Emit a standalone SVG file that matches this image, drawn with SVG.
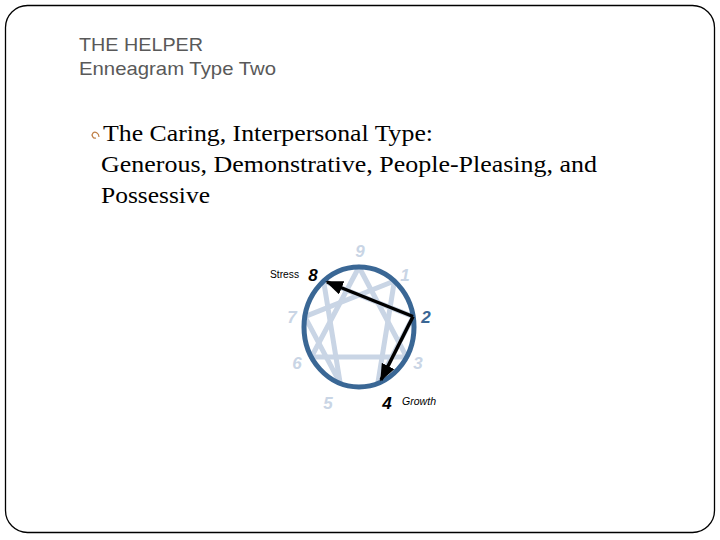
<svg xmlns="http://www.w3.org/2000/svg" width="720" height="540" viewBox="0 0 720 540">
<style>
.title{font-family:"Liberation Sans",Arial,sans-serif;font-size:19px;fill:#595959}
.body{font-family:"Liberation Serif","Times New Roman",serif;font-size:23px;fill:#000}
.num{font-family:"Liberation Sans",Arial,sans-serif;font-size:17px;font-style:italic;font-weight:bold;text-anchor:middle}
.light{fill:#c9d5e5}
.small{font-family:"Liberation Sans",Arial,sans-serif;font-size:10px;fill:#000}
.star{fill:none;stroke:#c9d5e5;stroke-width:5;stroke-linejoin:round}
.arrow{fill:none;stroke:#000;stroke-width:3.5;marker-end:url(#ah)}
</style>
<defs>
<marker id="ah" markerWidth="5" markerHeight="4" refX="4.5" refY="2" orient="auto" markerUnits="strokeWidth">
<path d="M0,0 L5,2 L0,4 Z" fill="#000"/>
</marker>
</defs>
<rect width="720" height="540" fill="#fff"/>
<rect x="5.5" y="5.5" width="709" height="527" rx="22" ry="22" fill="none" stroke="#000" stroke-width="1.3"/>
<g id="title">
<text class="title" x="79" y="51" textLength="124" lengthAdjust="spacingAndGlyphs">THE HELPER</text>
<text class="title" x="79" y="75" textLength="197" lengthAdjust="spacingAndGlyphs">Enneagram Type Two</text>
</g>
<g id="bullet">
<path d="M99,137 C99,133 95,131 93,133 C91,135 93,139 96,138" fill="none" stroke="#c08048" stroke-width="1.2"/>
<text class="body" x="103" y="141" textLength="330" lengthAdjust="spacingAndGlyphs">The Caring, Interpersonal Type:</text>
<text class="body" x="101" y="172" textLength="496" lengthAdjust="spacingAndGlyphs">Generous, Demonstrative, People-Pleasing, and</text>
<text class="body" x="101" y="203" textLength="109" lengthAdjust="spacingAndGlyphs">Possessive</text>
</g>
<g id="enneagram">
<polygon class="star" points="359,267 406.6,357 311.4,357"/>
<polyline class="star" points="413.2,316.6 377.8,383.4"/>
<polyline class="star" points="323.6,281 340.2,383.4 304.8,316.6 394.4,281 377.8,383.4"/>
<polyline class="star" points="413.2,316.6 323.6,281"/>
<ellipse cx="359" cy="327" rx="55" ry="60" fill="none" stroke="#3a6795" stroke-width="5"/>
</g>
<g id="connectors">
<path class="arrow" d="M413,316.5 L327,282"/>
<path class="arrow" d="M413,316.5 L381,380"/>
</g>
<g id="labels">
<text class="num light" x="360" y="257">9</text>
<text class="num light" x="405" y="281">1</text>
<text class="num" x="426" y="323" fill="#3a6795">2</text>
<text class="num light" x="418" y="369">3</text>
<text class="num" x="387" y="409" fill="#000">4</text>
<text class="num light" x="328" y="409">5</text>
<text class="num light" x="297" y="369">6</text>
<text class="num light" x="292" y="323">7</text>
<text class="num" x="313" y="281" fill="#000">8</text>
<text class="small" x="270" y="278" textLength="29" lengthAdjust="spacingAndGlyphs">Stress</text>
<text class="small" x="402" y="405" font-style="italic" textLength="34" lengthAdjust="spacingAndGlyphs">Growth</text>
</g>
</svg>
